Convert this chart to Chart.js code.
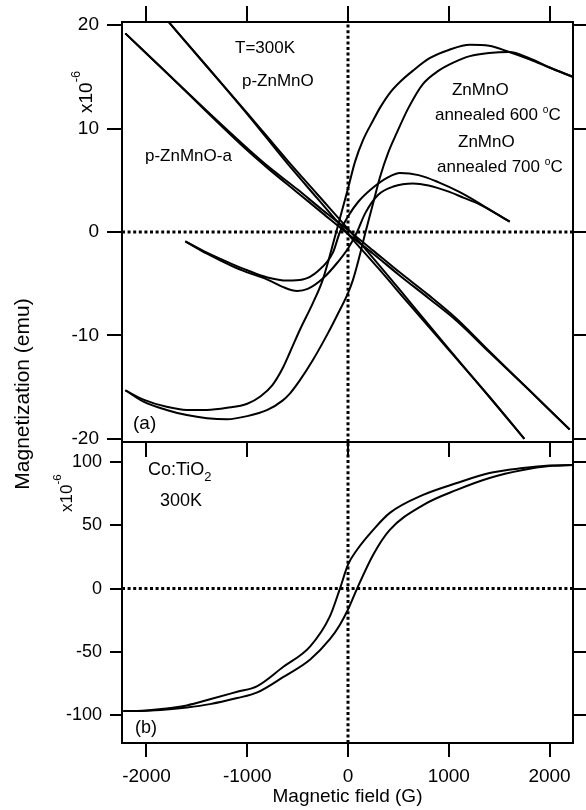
<!DOCTYPE html>
<html>
<head>
<meta charset="utf-8">
<script src="https://cdn.jsdelivr.net/npm/chart.js@4.4.0/dist/chart.umd.min.js"></script>
<style>
  html, body { margin: 0; padding: 0; background: #fff; }
  #wrap { position: relative; width: 586px; height: 810px; }
  #wrap canvas { position: absolute; left: 0; top: 0; }
</style>
</head>
<body>
<div id="wrap">
  <canvas id="panelA" width="586" height="810"></canvas>
  <canvas id="panelB" width="586" height="810"></canvas>
</div>
<script>
// axis ticks
const fieldTicks = [-2000, -1000, 0, 1000, 2000];
const ticksA = [-20, -10, 0, 10, 20];
const ticksB = [-100, -50, 0, 50, 100];
const fieldRange = [-2243, 2233];
const rangeA = [-20.3, 20.3];
const rangeB = [-122, 115.8];

// (a) ZnMnO annealed 600 C, x1e-6 emu
const h600Down = [-2210, -2030, -1800, -1600, -1400, -1200, -1000, -870, -750, -650, -575, -475, -350, -250, -125, 0, 70, 150, 250, 317, 420, 515, 645, 810, 1000, 1210, 1400, 1600, 1800, 2000, 2230];
const m600Down = [-15.3, -16.2, -16.9, -17.2, -17.2, -17.0, -16.6, -15.9, -14.8, -13.2, -11.6, -9.4, -6.9, -4.6, -0.3, 4.2, 6.8, 8.9, 10.8, 12.0, 13.5, 14.5, 15.6, 16.8, 17.6, 18.1, 18.0, 17.4, 16.7, 15.9, 15.0];
const h600Up = [-2210, -2030, -1800, -1600, -1400, -1200, -1000, -800, -650, -575, -475, -350, -200, -100, 0, 50, 110, 174, 250, 317, 400, 485, 600, 743, 900, 1050, 1210, 1400, 1600, 1800, 2000, 2230];
const m600Up = [-15.3, -16.4, -17.2, -17.7, -18.0, -18.1, -17.8, -17.2, -16.3, -15.6, -14.3, -12.4, -9.8, -7.9, -5.9, -4.6, -2.5, 0, 2.8, 5.3, 7.7, 9.6, 12.0, 14.3, 15.6, 16.4, 17.0, 17.3, 17.4, 16.8, 15.9, 15.0];

// (a) ZnMnO annealed 700 C
const h700Down = [-1615, -1400, -1150, -1000, -800, -600, -450, -300, -150, -80, 0, 100, 250, 400, 515, 700, 900, 1100, 1300, 1450, 1605];
const m700Down = [-0.9, -2.0, -3.1, -3.7, -4.4, -4.7, -4.6, -3.8, -2.0, 0, 1.5, 2.9, 4.3, 5.3, 5.7, 5.5, 4.8, 3.9, 2.8, 1.9, 1.0];
const h700Up = [-1615, -1400, -1150, -1000, -800, -650, -505, -400, -250, -100, 0, 90, 170, 300, 450, 645, 800, 1000, 1150, 1300, 1450, 1605];
const m700Up = [-0.9, -2.1, -3.3, -3.9, -4.6, -5.3, -5.7, -5.5, -4.5, -2.9, -1.6, 0, 1.8, 3.6, 4.4, 4.7, 4.5, 3.9, 3.3, 2.7, 1.9, 1.0];

// (a) p-ZnMnO
const hPara = [-1850, -1400, -1000, -600, -300, 0, 300, 600, 1000, 1400, 1750];
const mParaDown = [21.1, 16.0, 11.5, 6.9, 3.6, 0.3, -3.1, -6.6, -11.3, -15.9, -20.0];
const mParaUp = [21.1, 16.0, 11.4, 6.6, 3.2, -0.2, -3.5, -6.9, -11.4, -15.9, -20.0];

// (a) p-ZnMnO-a
const hParaA = [-2210, -1800, -1400, -1000, -800, -500, -250, 0, 250, 500, 800, 1080, 1400, 1800, 2200];
const mParaADown = [19.2, 15.4, 11.7, 8.1, 6.4, 4.1, 2.1, 0.2, -1.8, -3.8, -6.1, -8.4, -11.5, -15.3, -19.1];
const mParaAUp = [19.2, 15.4, 11.6, 7.9, 6.2, 3.8, 1.8, -0.2, -2.1, -4.1, -6.4, -8.6, -11.6, -15.3, -19.1];

// (b) Co:TiO2 300K
const hCo = [-2230, -2000, -1800, -1600, -1370, -1100, -900, -645, -375, -180, -80, 0, 90, 250, 415, 745, 1080, 1405, 1735, 2000, 2230];
const mCoDown = [-96.8, -96.3, -94.8, -92.3, -87.5, -81.5, -77.0, -62.0, -45.6, -22.0, 0, 18.9, 30.7, 46.4, 59.8, 74.0, 83.4, 91.3, 95.2, 97.2, 97.6];
const mCoUp = [-96.8, -96.6, -95.6, -94.0, -91.3, -86.5, -82.0, -70.0, -56.0, -40.0, -28.5, -16.5, 0, 26.8, 46.4, 66.0, 78.0, 87.4, 93.7, 96.8, 97.6];

const black = '#000';
const fontFamily = '"Liberation Sans", Arial, Helvetica, sans-serif';
Chart.defaults.font.family = fontFamily;
Chart.defaults.color = black;

const sup = t => ({ t, scale: 0.68, shift: -0.62 });
const deg = { t: 'o', scale: 0.6, shift: -0.42 };
const sub = t => ({ t, scale: 0.72, shift: 0.33 });

// text placed in data units of each panel
const notesA = [
  { x: -1121, y: 17.3, size: 17, parts: [{ t: 'T=300K' }] },
  { x: -1052, y: 14.15, size: 17, parts: [{ t: 'p-ZnMnO' }] },
  { x: -2015, y: 6.9, size: 17, parts: [{ t: 'p-ZnMnO-a' }] },
  { x: 1032, y: 13.2, size: 17, parts: [{ t: 'ZnMnO' }] },
  { x: 863, y: 10.8, size: 17, parts: [{ t: 'annealed 600 ' }, deg, { t: 'C' }] },
  { x: 1092, y: 8.2, size: 17, parts: [{ t: 'ZnMnO' }] },
  { x: 883, y: 5.8, size: 17, parts: [{ t: 'annealed 700 ' }, deg, { t: 'C' }] },
  { x: -2134, y: -19.0, size: 19, parts: [{ t: '(a)' }] }
];
const notesB = [
  { x: -1985, y: 89.5, size: 18, parts: [{ t: 'Co:TiO' }, sub('2')] },
  { x: -1866, y: 65.6, size: 18, parts: [{ t: '300K' }] },
  { x: -2114, y: -113.8, size: 18, parts: [{ t: '(b)' }] }
];

function richText(ctx, x, y, parts, size, angle, center) {
  ctx.save();
  ctx.translate(x, y);
  if (angle) ctx.rotate(angle);
  ctx.fillStyle = black;
  ctx.textBaseline = 'alphabetic';
  let total = 0;
  parts.forEach(p => {
    ctx.font = size * (p.scale || 1) + 'px ' + fontFamily;
    total += ctx.measureText(p.t).width;
  });
  let cx = center ? -total / 2 : 0;
  parts.forEach(p => {
    ctx.font = size * (p.scale || 1) + 'px ' + fontFamily;
    ctx.fillText(p.t, cx, (p.shift || 0) * size);
    cx += ctx.measureText(p.t).width;
  });
  ctx.restore();
}

function notesPlugin(notes, extra) {
  return {
    id: 'notes',
    afterDraw(chart) {
      const ctx = chart.ctx;
      const xs = chart.scales.x, ys = chart.scales.y;
      notes.forEach(n => {
        richText(ctx, xs.getPixelForValue(n.x), ys.getPixelForValue(n.y), n.parts, n.size);
      });
      if (extra) extra(ctx);
    }
  };
}

function pts(h, m) {
  return h.map((v, i) => ({ x: v, y: m[i] }));
}

function curve(h, m) {
  return {
    data: pts(h, m), borderColor: black, borderWidth: 2, pointRadius: 0,
    fill: false, cubicInterpolationMode: 'monotone'
  };
}

function dotted(data) {
  return {
    data, borderColor: black, borderWidth: 3, borderDash: [3, 2.6],
    pointRadius: 0, fill: false, clip: 0
  };
}

function axis(position, size, tickLen, range, list, labels) {
  const horizontal = position === 'top' || position === 'bottom';
  return {
    type: 'linear',
    position,
    min: range[0],
    max: range[1],
    grid: {
      display: true, drawOnChartArea: false, drawTicks: true,
      tickLength: tickLen, tickWidth: 2, tickColor: black, color: black, lineWidth: 2
    },
    border: { display: true, color: black, width: 2 },
    ticks: labels
      ? Object.assign({ display: true, callback: v => String(v) }, labels)
      : { display: false },
    afterBuildTicks: s => { s.ticks = list.map(v => ({ value: v })); },
    afterFit: s => { if (horizontal) s.height = size; else s.width = size; }
  };
}

const common = {
  responsive: false,
  maintainAspectRatio: false,
  devicePixelRatio: 1,
  animation: false,
  events: [],
  plugins: { legend: { display: false }, tooltip: { enabled: false } }
};

new Chart(document.getElementById('panelA'), {
  type: 'line',
  data: {
    datasets: [
      dotted([{ x: fieldRange[0], y: 0 }, { x: fieldRange[1], y: 0 }]),
      dotted([{ x: 0, y: rangeA[0] }, { x: 0, y: rangeA[1] }]),
      curve(h600Down, m600Down),
      curve(h600Up, m600Up),
      curve(h700Down, m700Down),
      curve(h700Up, m700Up),
      curve(hPara, mParaDown),
      curve(hPara, mParaUp),
      curve(hParaA, mParaADown),
      curve(hParaA, mParaAUp)
    ]
  },
  options: Object.assign({}, common, {
    layout: { padding: { top: 0, left: 0, right: 0, bottom: 340 } },
    scales: {
      x: axis('bottom', 28, 15, fieldRange, fieldTicks),
      xTop: axis('top', 22, 16, fieldRange, fieldTicks),
      y: axis('left', 122, 15, rangeA, ticksA, { padding: 8, font: { size: 19 } }),
      yRight: axis('right', 13, 13, rangeA, ticksA)
    }
  }),
  plugins: [notesPlugin(notesA)]
});

new Chart(document.getElementById('panelB'), {
  type: 'line',
  data: {
    datasets: [
      dotted([{ x: fieldRange[0], y: 0 }, { x: fieldRange[1], y: 0 }]),
      dotted([{ x: 0, y: rangeB[0] }, { x: 0, y: rangeB[1] }]),
      curve(hCo, mCoDown),
      curve(hCo, mCoUp)
    ]
  },
  options: Object.assign({}, common, {
    layout: { padding: { top: 442, left: 0, right: 0, bottom: 0 } },
    scales: {
      x: Object.assign(axis('bottom', 67, 14, fieldRange, fieldTicks, { padding: 8, font: { size: 19 } }), {
        title: {
          display: true, text: 'Magnetic field (G)', color: black,
          font: { size: 19 }, padding: { top: 0, bottom: 2 }
        }
      }),
      y: axis('left', 122, 12, rangeB, ticksB, { padding: 8, font: { size: 18 } }),
      yRight: axis('right', 13, 13, rangeB, ticksB)
    }
  }),
  plugins: [notesPlugin(notesB, ctx => {
    richText(ctx, 28.5, 394, [{ t: 'Magnetization (emu)' }], 21, -Math.PI / 2, true);
    richText(ctx, 92, 113, [{ t: 'x10' }, sup('-6')], 19, -Math.PI / 2);
    richText(ctx, 72, 512, [{ t: 'x10' }, sup('-6')], 17, -Math.PI / 2);
  })]
});
</script>
</body>
</html>
